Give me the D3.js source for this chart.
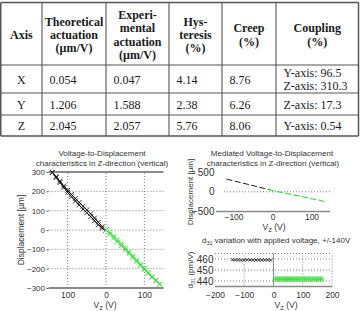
<!DOCTYPE html>
<html>
<head>
<meta charset="utf-8">
<script src="https://cdn.jsdelivr.net/npm/d3@7"></script>
<style>
  body { margin: 0; background: #fff; }
  svg { display: block; }
</style>
</head>
<body>
<div id="chart"></div>
<script>
// ---- table data ----
const headers = [
  ['Axis'],
  ['Theoretical', 'actuation', '(µm/V)'],
  ['Experi-', 'mental', 'actuation', '(µm/V)'],
  ['Hys-', 'teresis', '(%)'],
  ['Creep', '(%)'],
  ['Coupling', '(%)']
];
const axisNames = ['X', 'Y', 'Z'];
const theoretical = ['0.054', '1.206', '2.045'];
const experimental = ['0.047', '1.588', '2.057'];
const hysteresis = ['4.14', '2.38', '5.76'];
const creep = ['8.76', '6.26', '8.06'];
const coupling = [['Y-axis: 96.5', 'Z-axis: 310.3'], ['Z-axis: 17.3'], ['Y-axis: 0.54']];

// ---- voltage-to-displacement loop (left plot) ----
const loopV = [-140, -130, -120, -110, -100, -90, -80, -70, -60, -50, -40, -30, -20, -10, 0];
const loopOut = [298, 276, 252, 228, 205, 184, 163, 143, 123, 104, 84, 62, 40, 18, 0];
const loopBack = [298, 271, 245, 219, 195, 172, 150, 129, 108, 89, 69, 48, 27, 9, 0];
const posV = [0, 10, 20, 30, 40, 50, 60, 70, 80, 90, 100, 110, 120, 130, 140];
const posOut = [0, -22, -42, -62, -82, -102, -122, -142, -163, -184, -205, -225, -245, -263, -280];
const posBack = [0, -13, -32, -51, -71, -92, -113, -134, -155, -177, -198, -219, -240, -260, -280];

// ---- mediated displacement (top right plot) ----
const medNegV = [-118, -100, -80, -60, -40, -20, -5];
const medNegD = [320, 276, 228, 180, 130, 82, 48];
const medPosV = [-10, 0, 20, 40, 60, 80, 100, 120, 135];
const medPosD = [55, 30, -10, -50, -92, -134, -176, -216, -250];

// ---- d31 vs voltage (bottom right plot) ----
const d31NegV = [-140, -130, -120, -110, -100, -90, -80, -70, -60, -50, -40, -30, -20, -10];
const d31Neg = [459.3, 459.1, 459.2, 459.0, 459.1, 459.3, 459.2, 459.0, 459.1, 459.2, 459.1, 459.0, 459.2, 459.1];
const d31PosV = [4, 11, 18, 25, 32, 39, 46, 53, 60, 67, 74, 81, 88, 95, 102, 109, 116, 123, 130, 137, 144, 151, 158, 165];
const d31PosA = [442.6, 442.5, 442.7, 442.6, 442.5, 442.6, 442.7, 442.5, 442.6, 442.6, 442.5, 442.7, 442.6, 442.5, 442.6, 442.7, 442.6, 442.5, 442.6, 442.6, 442.7, 442.5, 442.6, 442.6];
const d31PosB = [441.0, 441.1, 440.9, 441.0, 441.1, 441.0, 440.9, 441.0, 441.1, 441.0, 440.9, 441.0, 441.1, 441.0, 441.0, 440.9, 441.0, 441.1, 441.0, 440.9, 441.0, 441.1, 441.0, 441.0];

const GREEN = '#38dc38';
const TXT = '#333';

const svg = d3.select('#chart').append('svg')
  .attr('width', 361)
  .attr('height', 311);
svg.append('rect').attr('width', 361).attr('height', 311).attr('fill', '#fff');

// ================= table =================
const colX = [0.75, 42, 106, 169, 222, 276, 358.5];
const rowY = [2.5, 65, 93, 115, 136];
const lineH = 13.4;

const table = svg.append('g')
  .attr('font-family', '"Liberation Serif", "Times New Roman", serif')
  .attr('font-size', 12)
  .attr('fill', '#1a1a1a');

table.selectAll('line.v')
  .data(colX)
  .enter().append('line')
  .attr('x1', d => d).attr('x2', d => d)
  .attr('y1', rowY[0]).attr('y2', rowY[rowY.length - 1])
  .attr('stroke', '#555')
  .attr('stroke-width', (d, i) => (i === 0 || i === colX.length - 1) ? 1.5 : 1.1);

table.selectAll('line.h')
  .data(rowY)
  .enter().append('line')
  .attr('x1', colX[0]).attr('x2', colX[colX.length - 1])
  .attr('y1', d => d).attr('y2', d => d)
  .attr('stroke', '#555')
  .attr('stroke-width', (d, i) => (i === 0 || i === rowY.length - 1) ? 1.5 : 1.1);

// header cells
headers.forEach((lines, c) => {
  const cx = (colX[c] + colX[c + 1]) / 2;
  const cy = 35;
  lines.forEach((t, k) => {
    table.append('text')
      .attr('x', cx)
      .attr('y', cy + (k - (lines.length - 1) / 2) * lineH + 4)
      .attr('text-anchor', 'middle')
      .attr('font-weight', 'bold')
      .text(t);
  });
});

// body cells
const rows = axisNames.map((a, i) => [[a], [theoretical[i]], [experimental[i]], [hysteresis[i]], [creep[i]], coupling[i]]);
rows.forEach((cells, r) => {
  const cy = (rowY[r + 1] + rowY[r + 2]) / 2 + 0.5;
  cells.forEach((lines, c) => {
    lines.forEach((t, k) => {
      table.append('text')
        .attr('x', c === 0 ? (colX[0] + colX[1]) / 2 : colX[c] + 7.5)
        .attr('y', cy + (k - (lines.length - 1) / 2) * lineH + 4)
        .attr('text-anchor', c === 0 ? 'middle' : 'start')
        .text(t);
    });
  });
});

// ================= helpers =================
const crossPath = s => `M${-s},${-s}L${s},${s}M${-s},${s}L${s},${-s}`;

function grid(g, x, y, xs, ys) {
  g.append('g').selectAll('line')
    .data(ys).enter().append('line')
    .attr('x1', x.range()[0]).attr('x2', x.range()[1])
    .attr('y1', d => y(d)).attr('y2', d => y(d))
    .attr('stroke', '#444').attr('stroke-width', 0.7)
    .attr('stroke-dasharray', '1,2');
  g.append('g').selectAll('line')
    .data(xs).enter().append('line')
    .attr('x1', d => x(d)).attr('x2', d => x(d))
    .attr('y1', y.range()[0]).attr('y2', y.range()[1])
    .attr('stroke', '#444').attr('stroke-width', 0.7)
    .attr('stroke-dasharray', '1,2');
}

function styleAxis(a) {
  a.select('.domain').remove();
  a.selectAll('line').attr('stroke', '#555');
  a.selectAll('text').attr('fill', TXT);
}

function vzLabel(g, x, y) {
  const t = g.append('text')
    .attr('x', x).attr('y', y)
    .attr('text-anchor', 'middle')
    .attr('font-size', 8.5)
    .attr('fill', TXT);
  t.append('tspan').text('V');
  t.append('tspan').attr('font-size', 6).attr('dy', 2).text('Z');
  t.append('tspan').attr('dy', -2).text(' (V)');
}

const plots = svg.append('g')
  .attr('font-family', '"Liberation Sans", Arial, sans-serif')
  .attr('font-size', 8);

// ================= plot 1: loop =================
const x1 = d3.scaleLinear().domain([-150, 150]).range([48.5, 163.5]);
const y1 = d3.scaleLinear().domain([-300, 300]).range([288, 172]);
const p1 = plots.append('g');

p1.append('text').attr('x', 102).attr('y', 156).attr('text-anchor', 'middle').attr('fill', TXT)
  .text('Voltage-to-Displacement');
p1.append('text').attr('x', 102).attr('y', 166).attr('text-anchor', 'middle').attr('fill', TXT)
  .text('characteristics in Z-direction (vertical)');

grid(p1, x1, y1, [-100, 0, 100], [-200, -100, 0, 100, 200]);

p1.append('line').attr('x1', x1.range()[0]).attr('x2', x1.range()[1])
  .attr('y1', y1(300)).attr('y2', y1(300)).attr('stroke', '#8a8a8a').attr('stroke-width', 2);
p1.append('line').attr('x1', x1.range()[0]).attr('x2', x1.range()[1])
  .attr('y1', y1(-300)).attr('y2', y1(-300)).attr('stroke', '#8a8a8a').attr('stroke-width', 2);

p1.append('g').attr('transform', `translate(${x1.range()[0]},0)`)
  .call(d3.axisLeft(y1).tickValues([-300, -200, -100, 0, 100, 200, 300]).tickSize(2).tickPadding(1.5))
  .call(styleAxis)
  .selectAll('text').attr('font-size', 8);
p1.append('g').attr('transform', `translate(0,${y1.range()[0]})`)
  .call(d3.axisBottom(x1).tickValues([-100, 0, 100]).tickSize(0).tickFormat(d => Math.abs(d)).tickPadding(3.5))
  .call(styleAxis)
  .selectAll('text').attr('font-size', 8.5);

const line1 = d3.line().x(d => x1(d[0])).y(d => y1(d[1]));
[[loopV, loopOut], [loopV, loopBack]].forEach(([vs, ds]) => {
  const pts = vs.map((v, i) => [v, ds[i]]);
  p1.append('path').attr('d', line1(pts)).attr('fill', 'none').attr('stroke', '#000').attr('stroke-width', 0.8);
  p1.append('g').selectAll('path').data(pts).enter().append('path')
    .attr('transform', d => `translate(${x1(d[0])},${y1(d[1])})`)
    .attr('d', crossPath(2.4)).attr('stroke', '#000').attr('stroke-width', 0.8);
});
[[posV, posOut], [posV, posBack]].forEach(([vs, ds]) => {
  const pts = vs.map((v, i) => [v, ds[i]]);
  p1.append('path').attr('d', line1(pts)).attr('fill', 'none').attr('stroke', GREEN).attr('stroke-width', 0.8);
  p1.append('g').selectAll('path').data(pts).enter().append('path')
    .attr('transform', d => `translate(${x1(d[0])},${y1(d[1])})`)
    .attr('d', crossPath(2.4)).attr('stroke', GREEN).attr('stroke-width', 0.9);
});

p1.append('text')
  .attr('transform', 'translate(24,230) rotate(-90)')
  .attr('text-anchor', 'middle').attr('font-size', 8.5).attr('fill', TXT)
  .text('Displacement [µm]');
vzLabel(p1, 105, 308);

// ================= plot 2: mediated =================
const x2 = d3.scaleLinear().domain([-150, 150]).range([214, 331]);
const y2 = d3.scaleLinear().domain([-500, 500]).range([211.5, 172]);
const p2 = plots.append('g');

p2.append('text').attr('x', 272).attr('y', 156).attr('text-anchor', 'middle').attr('fill', TXT)
  .text('Mediated Voltage-to-Displacement');
p2.append('text').attr('x', 273).attr('y', 166).attr('text-anchor', 'middle').attr('fill', TXT)
  .text('characteristics in Z-direction (vertical)');

grid(p2, d3.scaleLinear().domain([-150, 150]).range([224, 331]), y2, [], [0]);
p2.append('line').attr('x1', 216).attr('x2', 330)
  .attr('y1', y2(-500)).attr('y2', y2(-500)).attr('stroke', '#8a8a8a').attr('stroke-width', 1.6);

p2.append('g').attr('transform', `translate(216,0)`)
  .call(d3.axisLeft(y2).tickValues([-500, 0, 500]).tickSize(0).tickPadding(1.5))
  .call(styleAxis);
p2.append('g').attr('transform', `translate(0,${y2.range()[0]})`)
  .call(d3.axisBottom(x2).tickValues([-100, 0, 100]).tickSize(0).tickPadding(2.5))
  .call(styleAxis)
  .selectAll('text').attr('font-size', 8.5);

const line2 = d3.line().x(d => x2(d[0])).y(d => y2(d[1]));
p2.append('path').attr('d', line2(medNegV.map((v, i) => [v, medNegD[i]])))
  .attr('fill', 'none').attr('stroke', '#000').attr('stroke-width', 0.9).attr('stroke-dasharray', '6,2.5');
p2.append('path').attr('d', line2(medPosV.map((v, i) => [v, medPosD[i]])))
  .attr('fill', 'none').attr('stroke', GREEN).attr('stroke-width', 1.1).attr('stroke-dasharray', '6,2.5');

p2.append('text')
  .attr('transform', 'translate(193,192) rotate(-90)')
  .attr('text-anchor', 'middle').attr('font-size', 8).attr('fill', TXT)
  .text('Displacement [µm]');
vzLabel(p2, 274, 230);

// ================= plot 3: d31 =================
const x3 = d3.scaleLinear().domain([-200, 200]).range([215, 332]);
const y3 = d3.scaleLinear().domain([435, 465]).range([286.5, 253.5]);
const p3 = plots.append('g');

const t3 = p3.append('text').attr('x', 202).attr('y', 243).attr('fill', TXT);
t3.append('tspan').text('d');
t3.append('tspan').attr('font-size', 5.5).attr('dy', 2).text('31');
t3.append('tspan').attr('dy', -2).text(' variation with applied voltage, +/-140V');

grid(p3, x3, y3, [-100, 100, 200], [440, 450, 460, 465]);
p3.append('line').attr('x1', x3(0)).attr('x2', x3(0))
  .attr('y1', y3.range()[0]).attr('y2', y3.range()[1]).attr('stroke', '#8a8a8a').attr('stroke-width', 1);
p3.append('line').attr('x1', x3.range()[0]).attr('x2', x3.range()[1])
  .attr('y1', y3(435)).attr('y2', y3(435)).attr('stroke', '#8a8a8a').attr('stroke-width', 1.4);

p3.append('g').attr('transform', `translate(${x3.range()[0]},0)`)
  .call(d3.axisLeft(y3).tickValues([440, 450, 460]).tickSize(0).tickPadding(1.5))
  .call(styleAxis);
p3.append('g').attr('transform', `translate(0,${y3.range()[0]})`)
  .call(d3.axisBottom(x3).tickValues([-200, -100, 0, 100, 200]).tickSize(0).tickPadding(5))
  .call(styleAxis)
  .selectAll('text').attr('font-size', 8.5);

p3.append('g').selectAll('path').data(d31NegV).enter().append('path')
  .attr('transform', (d, i) => `translate(${x3(d)},${y3(d31Neg[i])})`)
  .attr('d', crossPath(1.5)).attr('stroke', '#000').attr('stroke-width', 0.8);
[d31PosA, d31PosB].forEach(vals => {
  p3.append('g').selectAll('circle').data(d31PosV).enter().append('circle')
    .attr('cx', d => x3(d)).attr('cy', (d, i) => y3(vals[i])).attr('r', 1.5)
    .attr('fill', 'none').attr('stroke', GREEN).attr('stroke-width', 0.8);
});

const yl3 = p3.append('text')
  .attr('transform', 'translate(193,270) rotate(-90)')
  .attr('text-anchor', 'middle').attr('font-size', 8).attr('fill', TXT);
yl3.append('tspan').text('d');
yl3.append('tspan').attr('font-size', 5.5).attr('dy', 2).text('31');
yl3.append('tspan').attr('dy', -2).text(' (pm/V)');
vzLabel(p3, 286, 308);
</script>
</body>
</html>
